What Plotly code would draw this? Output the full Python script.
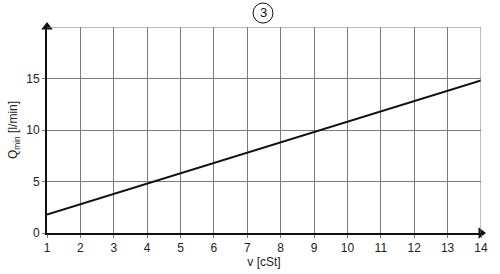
import plotly.graph_objects as go

viscosity = [1, 2, 3, 4, 5, 6, 7, 8, 9, 10, 11, 12, 13, 14]
q_min = [1.8, 2.8, 3.8, 4.8, 5.8, 6.8, 7.8, 8.8, 9.8, 10.8, 11.8, 12.8, 13.8, 14.8]
x_ticks = list(range(1, 15))
y_ticks = [0, 5, 10, 15]
x_range = [1, 14]
y_range = [0, 20]

fig = go.Figure()
fig.add_trace(go.Scatter(x=viscosity, y=q_min, mode="lines",
                         line=dict(color="#111111", width=2), showlegend=False))
# axis arrowheads at the ends of the axes
fig.add_trace(go.Scatter(x=[x_range[0]], y=[y_range[1]], mode="markers", cliponaxis=False,
                         marker=dict(symbol="triangle-up", size=10, color="#111111"),
                         showlegend=False, hoverinfo="skip"))
fig.add_trace(go.Scatter(x=[x_range[1]], y=[y_range[0]], mode="markers", cliponaxis=False,
                         marker=dict(symbol="triangle-right", size=10, color="#111111"),
                         showlegend=False, hoverinfo="skip"))

fig.update_layout(
    width=500, height=274,
    margin=dict(l=47, r=19, t=27, b=41, autoexpand=False),
    paper_bgcolor="white", plot_bgcolor="white",
    font=dict(family="Liberation Sans, Arial, sans-serif", size=12, color="#222222"),
    xaxis=dict(range=x_range, tickvals=x_ticks, showgrid=True, gridcolor="#7a7a7a", gridwidth=1,
               zeroline=False, showline=True, linecolor="#111111", linewidth=2,
               ticks="outside", ticklen=3, tickcolor="#7a7a7a", automargin=False,
               title=dict(text="v [cSt]", standoff=2, font=dict(size=12))),
    yaxis=dict(range=y_range, tickvals=y_ticks, showgrid=True, gridcolor="#7a7a7a", gridwidth=1,
               zeroline=False, showline=True, linecolor="#111111", linewidth=2,
               ticks="outside", ticklen=3, tickcolor="#7a7a7a", automargin=False,
               title=dict(text="Q<sub>min</sub> [l/min]", standoff=6, font=dict(size=12))),
    shapes=[
        dict(type="line", xref="x", yref="y", x0=x_range[0], x1=x_range[1], y0=y_range[1], y1=y_range[1],
             line=dict(color="#7a7a7a", width=1)),
        dict(type="line", xref="x", yref="y", x0=x_range[1], x1=x_range[1], y0=y_range[0], y1=y_range[1],
             line=dict(color="#7a7a7a", width=1)),
        dict(type="circle", xref="paper", yref="paper", x0=0.4747, x1=0.5207, y0=1.019, y1=1.1165,
             line=dict(color="#111111", width=1)),
    ],
    annotations=[
        dict(x=0.4977, y=1.068, xref="paper", yref="paper", text="3", showarrow=False,
             xanchor="center", yanchor="middle", font=dict(size=13, color="#111111")),
    ],
)

fig.write_html("out.html")
